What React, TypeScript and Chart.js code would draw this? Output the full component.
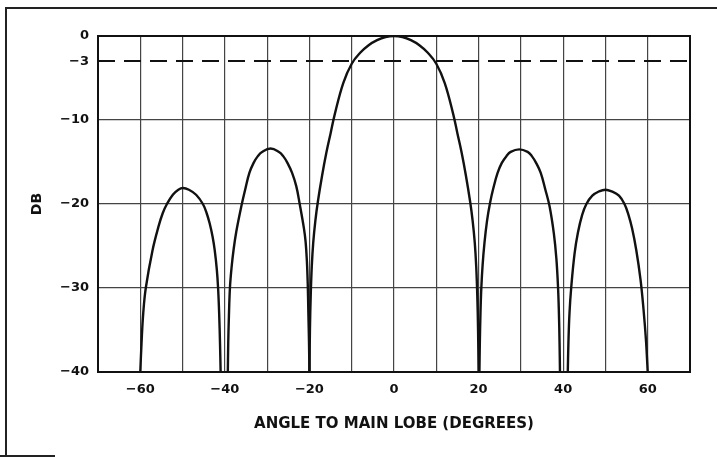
import { useEffect, useRef } from "react";
import { Chart, registerables } from "chart.js";

Chart.register(...registerables);

// Main lobe (-20° .. 20°)
const mainLobeAngles = [-20, -19.88, -19.7, -19.45, -19.1, -18.6, -18, -17, -16, -15, -14, -12, -10, -8, -6, -4, -2, 0, 2, 4, 6, 8, 10, 12, 14, 15, 16, 17, 18, 18.6, 19.1, 19.45, 19.7, 19.88, 20];
const mainLobeDb = [-40, -35, -31, -27.5, -24.6, -22, -19.7, -16.6, -13.9, -11.6, -9.3, -5.6, -3.3, -2, -1.1, -0.5, -0.12, 0, -0.12, -0.5, -1.1, -2, -3.3, -5.6, -9.3, -11.6, -13.9, -16.6, -19.7, -22, -24.6, -27.5, -31, -35, -40];

// First side lobe left (-39° .. -20°)
const leftLobe1Angles = [-39.3, -39.2, -39.05, -38.8, -38.4, -37.9, -37.3, -36.2, -35.2, -34.2, -33.2, -32.2, -31.2, -29.2, -27.2, -26.2, -25.2, -24.1, -23.1, -22.3, -21.3, -20.9, -20.6, -20.4, -20.25, -20.1, -20];
const leftLobe1Db = [-40, -36.5, -33.5, -30, -27.5, -25.3, -23.3, -20.5, -18.3, -16.3, -15.1, -14.3, -13.8, -13.4, -13.8, -14.3, -15.1, -16.3, -17.9, -20, -22.9, -24.5, -26.8, -29.5, -33, -36.5, -40];

// Second side lobe left (-60° .. -41°)
const leftLobe2Angles = [-60, -59.7, -59.3, -58.7, -57.1, -55.7, -54.7, -53.7, -52.3, -51, -49.9, -48.5, -46.8, -45.2, -44.3, -43.6, -42.9, -42.4, -41.9, -41.6, -41.35, -41.15, -41];
const leftLobe2Db = [-40, -36.5, -33, -30, -25.5, -22.7, -21.1, -20, -18.9, -18.3, -18.1, -18.3, -18.9, -20, -21.1, -22.3, -23.9, -25.5, -27.8, -30, -33, -36.5, -40];

// First side lobe right (20° .. 39°)
const rightLobe1Angles = [20.2, 20.3, 20.45, 20.65, 20.95, 21.4, 22, 22.7, 23.5, 24.5, 25.5, 26.6, 27.6, 29.6, 31.6, 32.6, 33.6, 34.7, 35.8, 36.8, 37.8, 38.4, 38.8, 39, 39.15, 39.25];
const rightLobe1Db = [-40, -36.5, -33, -30, -27.3, -24.6, -22, -19.9, -18.1, -16.3, -15.1, -14.3, -13.8, -13.5, -13.8, -14.3, -15.1, -16.3, -18.3, -20.3, -23.5, -26.5, -30, -33, -36.5, -40];

// Second side lobe right (41° .. 60°)
const rightLobe2Angles = [41.1, 41.25, 41.5, 41.9, 42.7, 43.5, 44.5, 45.5, 46.9, 48.5, 50, 51.5, 53.2, 54.5, 55.4, 56.3, 57.3, 58.3, 59, 59.6, 60];
const rightLobe2Db = [-40, -36.5, -33, -30, -25.9, -23.4, -21.3, -20, -19, -18.5, -18.3, -18.5, -19, -20, -21.2, -22.9, -25.5, -29, -32.5, -36.3, -40];

const yTickValues = [-40, -30, -20, -10, -3, 0];
const xLabelValues = [-60, -40, -20, 0, 20, 40, 60];
const halfPowerDb = -3;
const xAxisTitle = "ANGLE TO MAIN LOBE (DEGREES)";
const yAxisTitle = "DB";

const lobes: [number[], number[]][] = [
  [leftLobe2Angles, leftLobe2Db],
  [leftLobe1Angles, leftLobe1Db],
  [mainLobeAngles, mainLobeDb],
  [rightLobe1Angles, rightLobe1Db],
  [rightLobe2Angles, rightLobe2Db],
];

const fmt = (v: number) => (v === 0 ? "0" : (v < 0 ? "\u2212" : "") + Math.abs(v));

const frame = {
  id: "frame",
  afterDraw(chart: any) {
    const { ctx, chartArea } = chart;
    ctx.save();
    ctx.strokeStyle = "#111";
    ctx.lineWidth = 2;
    ctx.strokeRect(chartArea.left, chartArea.top, chartArea.right - chartArea.left, chartArea.bottom - chartArea.top);
    ctx.restore();
  },
};

export default function App() {
  const ref = useRef<HTMLCanvasElement>(null);
  useEffect(() => {
    if (!ref.current) return;
    const chart = new Chart(ref.current, {
      type: "line",
      data: {
        datasets: lobes.map(([a, d]) => ({
          data: a.map((x, i) => ({ x, y: d[i] })),
          borderColor: "#111",
          borderWidth: 2.4,
          pointRadius: 0,
          fill: false,
          tension: 0.4,
        })),
      },
      options: {
        animation: false,
        responsive: true,
        maintainAspectRatio: false,
        layout: { padding: { left: 0, top: 36, right: 27, bottom: 0 } },
        plugins: { legend: { display: false }, tooltip: { enabled: false } },
        scales: {
          x: {
            type: "linear",
            min: -70,
            max: 70,
            afterFit: (s: any) => {
              s.height = 85;
            },
            ticks: {
              stepSize: 10,
              autoSkip: false,
              maxRotation: 0,
              padding: 10,
              color: "#111",
              font: { family: "DejaVu Sans", size: 13, weight: "bold" },
              callback: (v: any) => (xLabelValues.includes(Number(v)) ? fmt(Number(v)) : ""),
            },
            grid: { color: "#444", lineWidth: 1.2, drawTicks: false },
            border: { display: false },
            title: {
              display: true,
              text: xAxisTitle,
              color: "#111",
              font: { family: "DejaVu Sans", size: 15, weight: "bold" },
              padding: { top: 0, bottom: 23.5 },
            },
          },
          y: {
            type: "linear",
            min: -40,
            max: 0,
            afterFit: (s: any) => {
              s.width = 98;
            },
            afterBuildTicks: (s: any) => {
              s.ticks = yTickValues.map((v) => ({ value: v }));
            },
            ticks: {
              padding: 9,
              color: "#111",
              font: { family: "DejaVu Sans", size: 13, weight: "bold" },
              callback: (v: any) => fmt(Number(v)),
            },
            grid: {
              color: (c: any) => (c.tick && c.tick.value === halfPowerDb ? "#111" : "#444"),
              lineWidth: (c: any) => (c.tick && c.tick.value === halfPowerDb ? 2 : 1.2),
              drawTicks: false,
            },
            border: {
              display: false,
              dash: (c: any) => (c.tick && c.tick.value === halfPowerDb ? [17, 9] : []),
            },
            title: {
              display: true,
              text: yAxisTitle,
              color: "#111",
              font: { family: "DejaVu Sans", size: 14, weight: "bold" },
              padding: { top: 28.6, bottom: 0 },
            },
          },
        },
      } as any,
      plugins: [frame],
    });
    return () => chart.destroy();
  }, []);

  return (
    <div style={{ position: "absolute", left: 0, top: 0, width: 717, height: 457, background: "#fff", overflow: "hidden" }}>
      <div style={{ position: "absolute", left: 5, top: 7, width: 712, height: 460, borderLeft: "2px solid #222", borderTop: "2px solid #222" }} />
      <div style={{ position: "absolute", left: 0, top: 455, width: 55, height: 0, borderTop: "2px solid #222" }} />
      <canvas ref={ref} style={{ position: "absolute", left: 0, top: 0 }} />
    </div>
  );
}
